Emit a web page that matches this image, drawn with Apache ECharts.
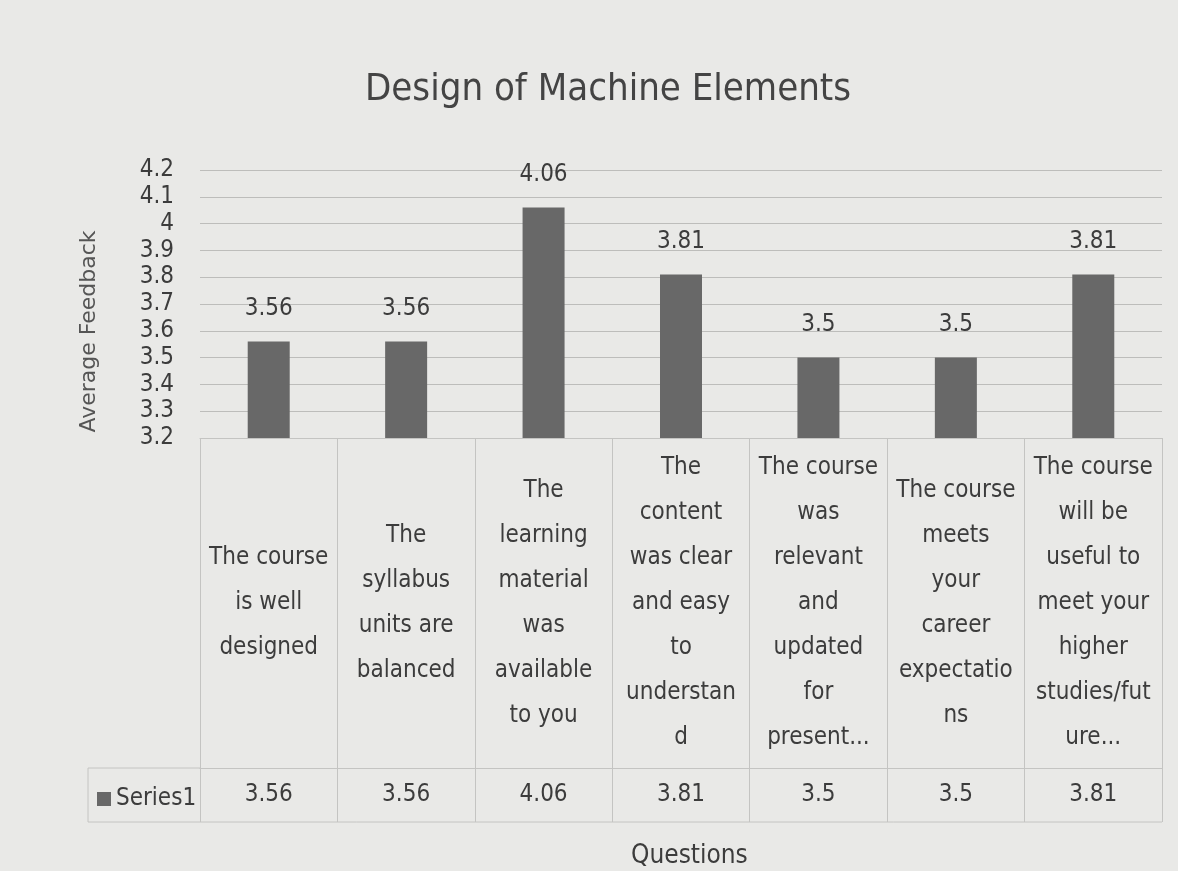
<!DOCTYPE html>
<html>
<head>
    <meta charset="utf-8">
    <title>Design of Machine Elements</title>
    <script src="https://cdn.jsdelivr.net/npm/echarts@6/dist/echarts.min.js"></script>
    <style>
        html, body { margin: 0; padding: 0; background: #e9e9e7; }
        #chart1 { width: 1178px; height: 871px; }
    </style>
</head>
<body>
<div id="chart1"></div>
<script>
    // question text, wrapped the same way as in the data table
    var questions = [
        'The course\nis well\ndesigned',
        'The\nsyllabus\nunits are\nbalanced',
        'The\nlearning\nmaterial\nwas\navailable\nto you',
        'The\ncontent\nwas clear\nand easy\nto\nunderstan\nd',
        'The course\nwas\nrelevant\nand\nupdated\nfor\npresent...',
        'The course\nmeets\nyour\ncareer\nexpectatio\nns',
        'The course\nwill be\nuseful to\nmeet your\nhigher\nstudies/fut\nure...'
    ];
    var feedback = [3.56, 3.56, 4.06, 3.81, 3.5, 3.5, 3.81];
    var yTicks = { min: 3.2, max: 4.2, step: 0.1 };

    var font = '"Liberation Sans Narrow", "DejaVu Sans Condensed", sans-serif';
    var ink = '#3c3c3c';
    var rule = '#c4c4c2';

    var myChart1 = echarts.init(document.getElementById('chart1'));
    myChart1.setOption({
        backgroundColor: '#e9e9e7',
        textStyle: { fontFamily: font },
        title: [{
            text: 'Design of Machine Elements',
            left: 360,
            top: 66,
            textStyle: { fontFamily: font, fontSize: 38, fontWeight: 'normal', color: '#444' }
        }, {
            text: 'Questions',
            left: 626,
            top: 838,
            textStyle: { fontFamily: font, fontSize: 26, fontWeight: 'normal', color: ink }
        }],
        legend: {
            data: ['Series1'],
            left: 92,
            top: 782,
            icon: 'rect',
            itemWidth: 14,
            itemHeight: 14,
            itemGap: 4,
            textStyle: { fontFamily: font, fontSize: 24, color: ink }
        },
        grid: { left: 200, right: 16, top: 170, bottom: 433 },
        xAxis: [{
            type: 'category',
            data: questions,
            axisLine: { show: true, lineStyle: { color: rule } },
            axisTick: { show: true, length: 330, lineStyle: { color: rule } },
            axisLabel: {
                interval: 0,
                margin: 165,
                verticalAlign: 'middle',
                lineHeight: 45,
                fontSize: 24,
                color: ink,
                fontFamily: font
            },
            splitLine: { show: false }
        }, {
            type: 'category',
            position: 'bottom',
            offset: 330,
            data: feedback.map(String),
            axisLine: { show: true, lineStyle: { color: rule } },
            axisTick: { show: true, length: 54, lineStyle: { color: rule } },
            axisLabel: {
                interval: 0,
                margin: 27,
                verticalAlign: 'middle',
                fontSize: 24,
                color: ink,
                fontFamily: font
            }
        }],
        yAxis: {
            type: 'value',
            min: yTicks.min,
            max: yTicks.max,
            interval: yTicks.step,
            name: 'Average Feedback',
            nameLocation: 'middle',
            nameGap: 100,
            nameTextStyle: { fontFamily: 'DejaVu Sans', fontSize: 22, color: '#555', padding: [0, 0, 0, -55] },
            axisLine: { show: false },
            axisTick: { show: false },
            axisLabel: {
                margin: 26,
                fontSize: 24,
                color: ink,
                fontFamily: font,
                formatter: function (v) { return String(+v.toFixed(1)); }
            },
            splitLine: { lineStyle: { color: '#bdbdbb' } }
        },
        graphic: [
            // left cell of the data table (legend column)
            { type: 'line', shape: { x1: 88, y1: 768, x2: 200, y2: 768 }, style: { stroke: rule } },
            { type: 'line', shape: { x1: 88, y1: 822, x2: 1162, y2: 822 }, style: { stroke: rule } },
            { type: 'line', shape: { x1: 88, y1: 768, x2: 88, y2: 822 }, style: { stroke: rule } }
        ],
        series: [{
            name: 'Series1',
            type: 'bar',
            data: feedback,
            barWidth: 42,
            itemStyle: { color: '#686868' },
            label: {
                show: true,
                position: 'top',
                distance: 21,
                fontSize: 24,
                color: ink,
                fontFamily: font
            }
        }]
    });
</script>
</body>
</html>
